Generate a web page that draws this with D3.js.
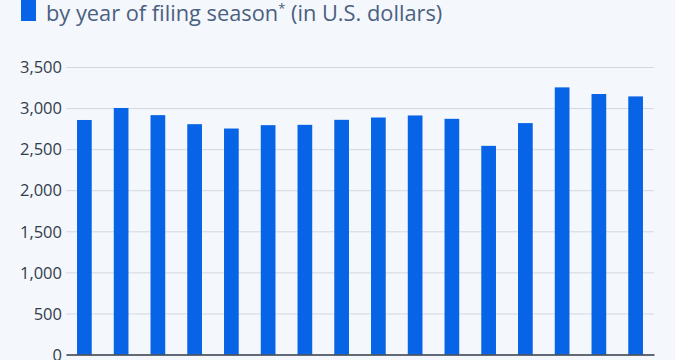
<!DOCTYPE html>
<html>
<head>
<meta charset="utf-8">
<script src="https://cdn.jsdelivr.net/npm/d3@7/dist/d3.min.js"></script>
<style>
  html, body { margin: 0; padding: 0; background: #f4f7fb; }
  svg { display: block; }
</style>
</head>
<body>
<svg id="chart" width="675" height="360"></svg>
<script>
const categories = ["2009","2010","2011","2012","2013","2014","2015","2016","2017","2018","2019","2020","2021","2022","2023","2024"];
const values = [2855, 3001, 2914, 2804, 2751, 2792, 2796, 2857, 2885, 2910, 2869, 2540, 2817, 3252, 3171, 3142];
const yTicks = [0, 500, 1000, 1500, 2000, 2500, 3000, 3500];
const legendLabel = "by year of filing season";
const legendSuffix = " (in U.S. dollars)";

(function () {
const svg = d3.select("#chart");
const W = 675, H = 360;
const mLeft = 66, mRight = 654, mTop = 67, mBottom = 354.5;

svg.append("rect").attr("width", W).attr("height", H).attr("fill", "#f4f7fb");

const x = d3.scaleBand().domain(categories).range([mLeft, mRight]).paddingInner(0.6).paddingOuter(0.3);
const y = d3.scaleLinear().domain([0, 3500]).range([mBottom, mTop]);

// gridlines
const grid = svg.append("g").attr("transform", `translate(${mLeft},0)`)
  .call(d3.axisLeft(y).tickValues(yTicks.filter(t => t > 0)).tickSize(-(mRight - mLeft)).tickFormat(""));
grid.select(".domain").remove();
grid.selectAll(".tick line").attr("stroke", "#d3d8df").attr("stroke-width", 1);

// y labels
const yAxis = svg.append("g").attr("transform", `translate(${mLeft - 4},0)`)
  .call(d3.axisLeft(y).tickValues(yTicks).tickSize(0).tickPadding(0).tickFormat(d3.format(",")));
yAxis.select(".domain").remove();
yAxis.selectAll("text")
  .attr("font-family", "'Open Sans', sans-serif")
  .attr("font-size", 16.5)
  .attr("fill", "#333d4b")
  .attr("dy", "0.35em");

// bars
svg.append("g").selectAll("rect").data(values).join("rect")
  .attr("x", (d, i) => x(categories[i]))
  .attr("width", x.bandwidth())
  .attr("y", d => y(d))
  .attr("height", d => y(0) - y(d))
  .attr("fill", "#0864e6");

// baseline axis; its category labels sit below the visible frame, as in the reference crop
const xAxis = svg.append("g").attr("transform", `translate(0,${mBottom})`)
  .call(d3.axisBottom(x).tickSize(0).tickPadding(10));
xAxis.select(".domain").attr("stroke", "#2f3a48").attr("stroke-width", 1.3);
xAxis.selectAll("text").attr("font-family", "'Open Sans', sans-serif").attr("font-size", 14).attr("fill", "#333d4b");

// legend
svg.append("rect").attr("x", 21).attr("y", -2).attr("width", 15).attr("height", 23).attr("fill", "#0864e6");
const lt = svg.append("text").attr("x", 46).attr("y", 21)
  .attr("font-family", "'Open Sans', sans-serif")
  .attr("font-size", 21.8)
  .attr("fill", "#4b6080");
lt.append("tspan").text(legendLabel);
lt.append("tspan").text("*").attr("font-size", 13).attr("dy", -8);
lt.append("tspan").text(legendSuffix).attr("dy", 8);
})();
</script>
</body>
</html>
